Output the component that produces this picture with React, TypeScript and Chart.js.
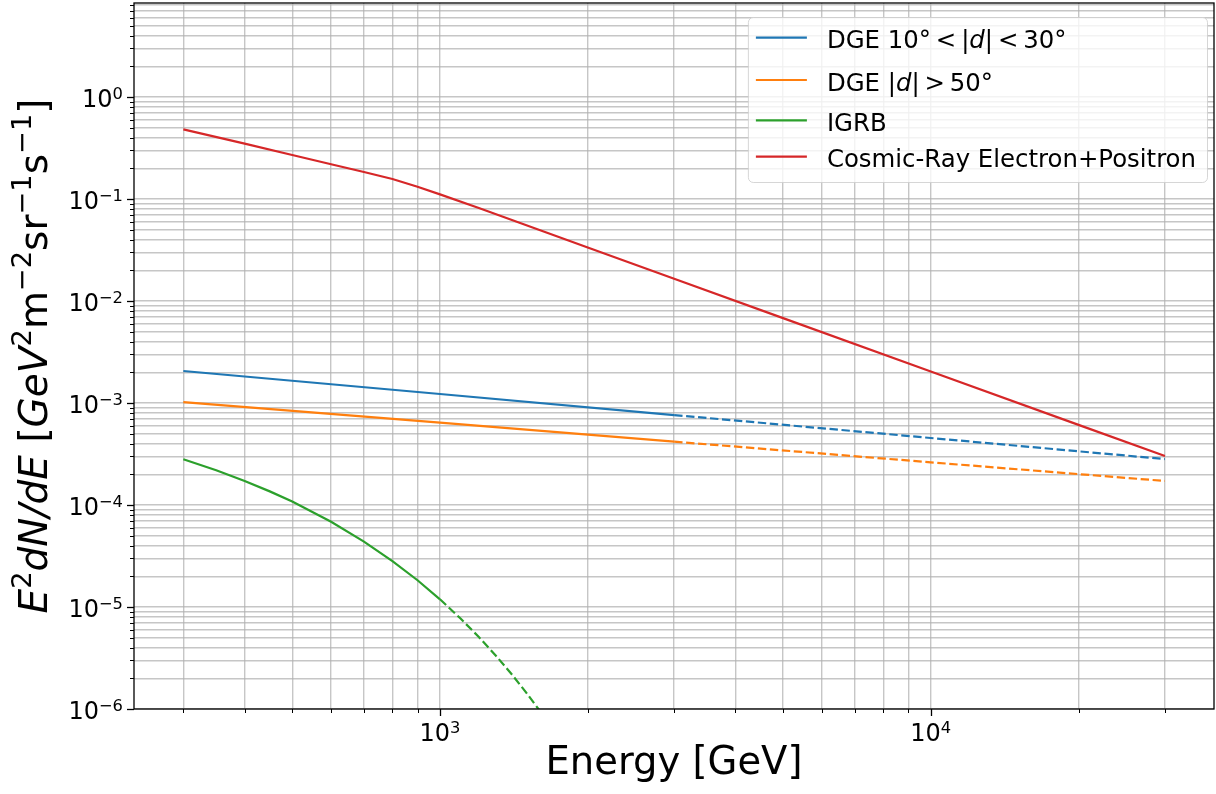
import React, { useEffect, useRef } from 'react';
import { Chart, registerables } from 'chart.js';

Chart.register(...registerables);

// ---------------- data ----------------
const ENERGY_DGE = [300, 1000, 3000, 10000, 30000];
const DGE_MID_LAT = [2.06e-3, 1.225e-3, 7.62e-4, 4.54e-4, 2.82e-4];
const DGE_HIGH_LAT = [1.02e-3, 6.41e-4, 4.18e-4, 2.62e-4, 1.72e-4];

const ENERGY_IGRB = [300, 350, 400, 450, 500, 600, 700, 800, 900, 1000, 1100, 1200, 1300, 1400, 1500, 1600, 1700];
const IGRB = [2.81e-4, 2.19e-4, 1.72e-4, 1.36e-4, 1.08e-4, 6.84e-5, 4.38e-5, 2.82e-5, 1.83e-5, 1.19e-5, 7.75e-6, 5.08e-6, 3.33e-6, 2.19e-6, 1.44e-6, 9.49e-7, 6.26e-7];

const ENERGY_CRE = [300, 400, 500, 600, 700, 800, 900, 1000, 1200, 2000, 3000, 5000, 10000, 20000, 30000];
const CRE = [0.482, 0.349, 0.27, 0.219, 0.184, 0.157, 0.132, 0.111, 0.0815, 0.0334, 0.0165, 0.00679, 0.00204, 0.00061, 0.000302];

const SERIES_LABELS = ['DGE 10° < |d| < 30°', 'DGE |d| > 50°', 'IGRB', 'Cosmic-Ray Electron+Positron'];
const SERIES_COLORS = ['#1f77b4', '#ff7f0e', '#2ca02c', '#d62728'];
const SOLID_UNTIL = [3000, 3000, 1000, Infinity];

const X_MAJOR_TICKS = [1000, 10000];
const X_TICK_LABELS = ['10^3', '10^4'];
const Y_MAJOR_TICKS = [1e-6, 1e-5, 1e-4, 1e-3, 1e-2, 1e-1, 1];
const Y_TICK_LABELS = ['10^−6', '10^−5', '10^−4', '10^−3', '10^−2', '10^−1', '10^0'];

const X_TITLE = 'Energy [GeV]';
const Y_TITLE_PARTS = [
  { t: 'E', it: true },
  { t: '2', sup: true },
  { t: 'dN/dE', it: true },
  { t: ' [' },
  { t: 'GeV', it: true },
  { t: '2', sup: true },
  { t: 'm' },
  { t: '−2', sup: true },
  { t: 'sr' },
  { t: '−1', sup: true },
  { t: 's' },
  { t: '−1', sup: true },
  { t: ']' },
];

const X_MIN = 238;
const X_MAX = 37760;
const Y_MIN = 1e-6;
const Y_MAX = 8.35;

// ---------------- styling ----------------
const FONT = '"DejaVu Sans", "Liberation Sans", sans-serif';
const GRID_COLOR = 'rgba(176,176,176,0.72)';
const DASH = [8.4, 3.6];

type Part = { t: string; it?: boolean; sup?: boolean };

function buildLogTicks(min: number, max: number, majors: number[]) {
  const out: { value: number; major: boolean }[] = [];
  const e0 = Math.floor(Math.log10(min));
  const e1 = Math.ceil(Math.log10(max));
  for (let e = e0; e <= e1; e++) {
    for (let m = 1; m <= 9; m++) {
      const v = Number((m * Math.pow(10, e)).toPrecision(12));
      if (v >= min * (1 - 1e-9) && v <= max * (1 + 1e-9)) {
        out.push({ value: v, major: isMajor(v, majors) });
      }
    }
  }
  return out;
}

function isMajor(v: number, majors: number[]) {
  return majors.some((m) => Math.abs(Math.log10(v) - Math.log10(m)) < 1e-6);
}

function labelFor(v: number, majors: number[], labels: string[]) {
  const i = majors.findIndex((m) => Math.abs(Math.log10(v) - Math.log10(m)) < 1e-6);
  return i >= 0 ? labels[i] : '';
}

function tickParts(label: string): Part[] {
  const [base, exp] = label.split('^');
  const parts: Part[] = [{ t: base }];
  if (exp) parts.push({ t: exp, sup: true });
  return parts;
}

function partFont(p: Part, size: number, supScale: number) {
  const s = p.sup ? size * supScale : size;
  return `${p.it ? 'italic ' : ''}${s}px ${FONT}`;
}

function richWidth(ctx: CanvasRenderingContext2D, parts: Part[], size: number, supScale = 0.7) {
  let w = 0;
  for (const p of parts) {
    ctx.font = partFont(p, size, supScale);
    w += ctx.measureText(p.t).width;
  }
  return w;
}

function drawRich(
  ctx: CanvasRenderingContext2D,
  parts: Part[],
  x: number,
  y: number,
  size: number,
  supScale = 0.7,
  supRaise = 0.42
) {
  let cx = x;
  ctx.textBaseline = 'alphabetic';
  ctx.textAlign = 'left';
  for (const p of parts) {
    ctx.font = partFont(p, size, supScale);
    ctx.fillText(p.t, cx, p.sup ? y - size * supRaise : y);
    cx += ctx.measureText(p.t).width;
  }
  return cx - x;
}

function legendParts(label: string): Part[] {
  // mathtext-like rendering: italic d, tighter spacing around relations
  const tight = label.replace(/ ([<>]) /g, '\u2009$1\u2009');
  const segs = tight.split('|d|');
  const parts: Part[] = [];
  segs.forEach((s, i) => {
    if (i > 0) {
      parts.push({ t: '|' }, { t: 'd', it: true }, { t: '|' });
    }
    if (s) parts.push({ t: s });
  });
  return parts;
}

const decorPlugin = {
  id: 'decor',
  afterDraw(chart: any) {
    const ctx: CanvasRenderingContext2D = chart.ctx;
    const a = chart.chartArea;
    const xs = chart.scales.x;
    const ys = chart.scales.y;
    ctx.save();

    // tick marks (outside, major longer) and tick labels
    const tSize = 24;
    const tSup = 0.68;
    const tRaise = 0.34;
    ctx.strokeStyle = '#000';
    ctx.fillStyle = '#000';
    for (const t of xs.ticks) {
      const raw = xs.getPixelForValue(t.value);
      const px = Math.round(raw) + 0.5;
      if (px < a.left - 1 || px > a.right + 1) continue;
      const major = isMajor(t.value, X_MAJOR_TICKS);
      ctx.lineWidth = major ? 1.3 : 1;
      ctx.beginPath();
      ctx.moveTo(px, a.bottom);
      ctx.lineTo(px, a.bottom + (major ? 7 : 4));
      ctx.stroke();
      const lbl = labelFor(t.value, X_MAJOR_TICKS, X_TICK_LABELS);
      if (lbl) {
        const parts = tickParts(lbl);
        const w = richWidth(ctx, parts, tSize, tSup);
        drawRich(ctx, parts, raw - w / 2, a.bottom + 32, tSize, tSup, tRaise);
      }
    }
    for (const t of ys.ticks) {
      const raw = ys.getPixelForValue(t.value);
      const py = Math.round(raw) + 0.5;
      if (py < a.top - 1 || py > a.bottom + 1) continue;
      const major = isMajor(t.value, Y_MAJOR_TICKS);
      ctx.lineWidth = major ? 1.3 : 1;
      ctx.beginPath();
      ctx.moveTo(a.left, py);
      ctx.lineTo(a.left - (major ? 7 : 4), py);
      ctx.stroke();
      const lbl = labelFor(t.value, Y_MAJOR_TICKS, Y_TICK_LABELS);
      if (lbl) {
        const parts = tickParts(lbl);
        const w = richWidth(ctx, parts, tSize, tSup);
        drawRich(ctx, parts, a.left - 11 - w, raw + 10, tSize, tSup, tRaise);
      }
    }

    // frame
    ctx.lineWidth = 1.3;
    ctx.strokeStyle = '#000';
    ctx.strokeRect(a.left, a.top, a.right - a.left, a.bottom - a.top);

    // y title (mixed italic / superscript)
    const ySize = 39;
    ctx.fillStyle = '#000';
    ctx.save();
    ctx.translate(47, (a.top + a.bottom) / 2);
    ctx.rotate(-Math.PI / 2);
    const tw = richWidth(ctx, Y_TITLE_PARTS, ySize);
    drawRich(ctx, Y_TITLE_PARTS, -tw / 2, 0, ySize);
    ctx.restore();

    // legend
    const lSize = 24.4;
    const rows = chart.data.datasets.map((d: any) => ({ parts: legendParts(d.label), color: d.borderColor }));
    let maxW = 0;
    for (const r of rows) maxW = Math.max(maxW, richWidth(ctx, r.parts, lSize));
    const boxW = 79 + maxW + 11;
    const boxH = 165;
    const boxR = a.right - 7;
    const boxL = boxR - boxW;
    const boxT = a.top + 14;
    ctx.beginPath();
    (ctx as any).roundRect(boxL + 0.5, boxT + 0.5, boxW, boxH, 5);
    ctx.fillStyle = 'rgba(255,255,255,0.8)';
    ctx.fill();
    ctx.strokeStyle = 'rgba(204,204,204,0.8)';
    ctx.lineWidth = 1;
    ctx.stroke();
    const rowY = [20.7, 63, 103.3, 139.7];
    rows.forEach((r: any, i: number) => {
      const ly = boxT + rowY[i];
      ctx.strokeStyle = r.color;
      ctx.lineWidth = 2.2;
      ctx.beginPath();
      ctx.moveTo(boxL + 8, ly);
      ctx.lineTo(boxL + 59, ly);
      ctx.stroke();
      ctx.fillStyle = '#000';
      drawRich(ctx, r.parts, boxL + 79, ly + 10.5, lSize);
    });

    ctx.restore();
  },
};

function makeDataset(i: number, xs: number[], ys: number[], order: number) {
  return {
    label: SERIES_LABELS[i],
    data: xs.map((x, k) => ({ x, y: ys[k] })),
    borderColor: SERIES_COLORS[i],
    backgroundColor: SERIES_COLORS[i],
    borderWidth: 2.2,
    pointRadius: 0,
    tension: 0,
    fill: false,
    order,
    clip: 0,
    segment: {
      borderDash: (c: any) => (c.p0.parsed.x >= SOLID_UNTIL[i] - 1e-9 ? DASH : []),
    },
  };
}

export default function App() {
  const canvasRef = useRef<HTMLCanvasElement | null>(null);

  useEffect(() => {
    if (!canvasRef.current) return;
    const chart = new Chart(canvasRef.current, {
      type: 'line',
      data: {
        datasets: [
          makeDataset(0, ENERGY_DGE, DGE_MID_LAT, 4),
          makeDataset(1, ENERGY_DGE, DGE_HIGH_LAT, 3),
          makeDataset(2, ENERGY_IGRB, IGRB, 2),
          makeDataset(3, ENERGY_CRE, CRE, 1),
        ] as any,
      },
      options: {
        animation: false,
        responsive: true,
        maintainAspectRatio: false,
        events: [],
        layout: { padding: { top: 3, right: 2, left: 0, bottom: 0 } },
        plugins: {
          legend: { display: false },
          tooltip: { enabled: false },
          title: { display: false },
        },
        scales: {
          x: {
            type: 'logarithmic',
            min: X_MIN,
            max: X_MAX,
            afterBuildTicks: (s: any) => {
              s.ticks = buildLogTicks(X_MIN, X_MAX, X_MAJOR_TICKS);
            },
            afterFit: (s: any) => {
              s.height = 85;
              s.paddingLeft = 0;
              s.paddingRight = 0;
            },
            ticks: {
              display: false,
              autoSkip: false,
              maxRotation: 0,
              minRotation: 0,
            },
            grid: {
              color: GRID_COLOR,
              lineWidth: 1.4,
              tickLength: 9,
              tickColor: 'rgba(0,0,0,0)',
            },
            border: { display: false },
            title: {
              display: true,
              text: X_TITLE,
              color: '#000',
              font: { family: FONT, size: 38.5 },
              padding: { top: 0, bottom: 7 },
            },
          },
          y: {
            type: 'logarithmic',
            min: Y_MIN,
            max: Y_MAX,
            afterBuildTicks: (s: any) => {
              s.ticks = buildLogTicks(Y_MIN, Y_MAX, Y_MAJOR_TICKS);
            },
            afterFit: (s: any) => {
              s.width = 134;
              s.paddingTop = 0;
              s.paddingBottom = 0;
            },
            ticks: {
              display: false,
              autoSkip: false,
            },
            grid: {
              color: GRID_COLOR,
              lineWidth: 1.4,
              tickLength: 9,
              tickColor: 'rgba(0,0,0,0)',
            },
            border: { display: false },
            title: { display: false },
          },
        },
      } as any,
      plugins: [decorPlugin],
    });
    return () => chart.destroy();
  }, []);

  return (
    <div style={{ position: 'absolute', left: 0, top: 0, width: 1216, height: 794, background: '#fff' }}>
      <canvas ref={canvasRef} />
    </div>
  );
}
